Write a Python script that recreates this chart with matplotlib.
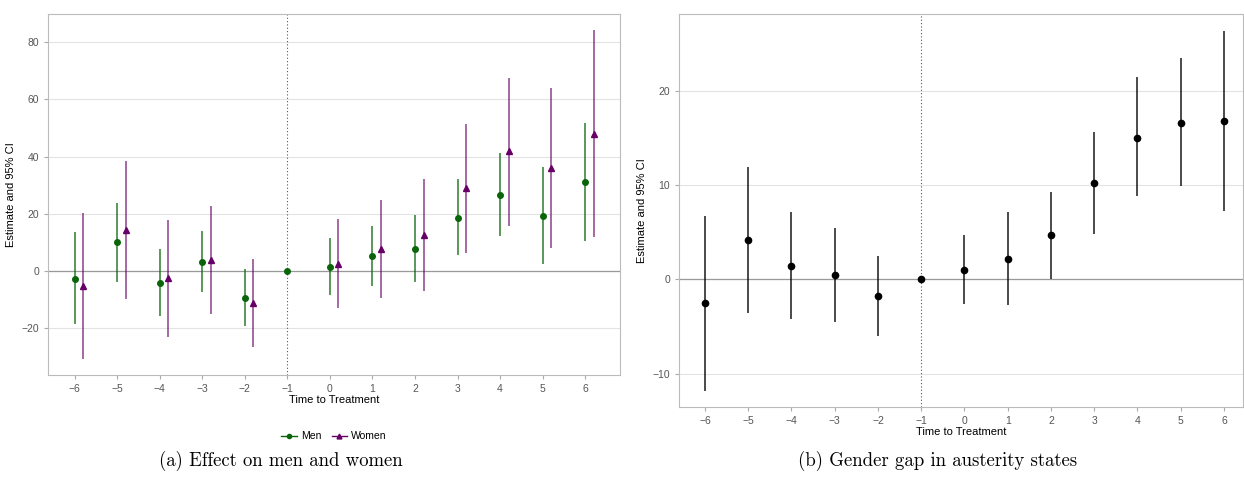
import matplotlib
matplotlib.use("Agg")
from matplotlib import pyplot as plt
import numpy as np

plt.rcParams['font.family'] = ['Liberation Sans', 'DejaVu Sans']
plt.rcParams['axes.unicode_minus'] = True

t = np.arange(-6, 7)

men_est = [-2.6, 10.0, -4.1, 3.3, -9.3, 0, 1.5, 5.3, 7.8, 18.7, 26.7, 19.4, 31.2]
men_lo = [-18.5, -3.7, -15.7, -7.3, -19.2, 0, -8.4, -5.1, -3.8, 5.5, 12.1, 2.6, 10.6]
men_hi = [13.5, 23.8, 7.8, 14.0, 0.7, 0, 11.4, 15.8, 19.5, 32.1, 41.4, 36.3, 51.7]

# women have no estimate at the reference period (-1)
women_t = [-6, -5, -4, -3, -2, 0, 1, 2, 3, 4, 5, 6]
women_est = [-5.1, 14.3, -2.3, 4.0, -11.0, 2.6, 7.7, 12.6, 29.1, 42.0, 36.0, 48.0]
women_lo = [-30.6, -9.9, -23.1, -15.0, -26.4, -13.0, -9.5, -7.0, 6.4, 15.9, 7.9, 12.0]
women_hi = [20.3, 38.4, 18.0, 22.7, 4.3, 18.1, 24.8, 32.0, 51.5, 67.6, 64.1, 84.1]

gap_est = [-2.5, 4.2, 1.4, 0.5, -1.8, 0, 1.0, 2.2, 4.7, 10.2, 15.0, 16.6, 16.8]
gap_lo = [-11.8, -3.5, -4.2, -4.5, -6.0, 0, -2.6, -2.7, 0.0, 4.8, 8.8, 9.9, 7.3]
gap_hi = [6.7, 11.9, 7.1, 5.5, 2.5, 0, 4.7, 7.1, 9.3, 15.6, 21.4, 23.4, 26.3]

green = '#0a640a'
purple = '#660066'

W, H = 1244, 483
fig = plt.figure(figsize=(W/100, H/100), dpi=100)

def frac(x0, y0, x1, y1):
    return [x0/W, 1 - y1/H, (x1-x0)/W, (y1-y0)/H]

def style(ax):
    for s in ax.spines.values():
        s.set_color('#bbbbbb')
        s.set_linewidth(0.8)
    ax.yaxis.grid(True, color='#e3e3e3', lw=0.8)
    ax.set_axisbelow(True)
    ax.axhline(0, color='#999999', lw=0.9, zorder=1)
    ax.axvline(-1, color='#555555', lw=0.8, ls=(0, (1, 2)), zorder=1)
    ax.set_xticks(t)
    ax.tick_params(labelsize=7.5, labelcolor='#555555', color='#aaaaaa', length=3)
    ax.set_xlabel('Time to Treatment', fontsize=8, labelpad=1)
    ax.set_ylabel('Estimate and 95% CI', fontsize=8)

ax1 = fig.add_axes(frac(48, 14, 620, 375))
style(ax1)
ax1.vlines(t, men_lo, men_hi, color=green, lw=1.1, alpha=0.85)
ax1.plot(t, men_est, 'o', color=green, ms=4)
wt = np.array(women_t) + 0.2
ax1.vlines(wt, women_lo, women_hi, color=purple, lw=1.1, alpha=0.75)
ax1.plot(wt, women_est, '^', color=purple, ms=4.5)
ax1.set_xlim(-6.63, 6.82)
ax1.set_ylim(-36.3, 89.8)
ax1.set_yticks([-20, 0, 20, 40, 60, 80])
h1 = ax1.plot([], [], '-o', color=green, ms=3, lw=1)[0]
h2 = ax1.plot([], [], '-^', color=purple, ms=3.5, lw=1)[0]
ax1.legend([h1, h2], ['Men', 'Women'], loc='upper center', bbox_to_anchor=(0.5, -0.13),
           ncol=2, frameon=False, fontsize=7.5, handlelength=1.5, columnspacing=1, handletextpad=0.4)

ax2 = fig.add_axes(frac(679, 14, 1243, 407))
style(ax2)
ax2.vlines(t, gap_lo, gap_hi, color='black', lw=1.1, alpha=0.9)
ax2.plot(t, gap_est, 'o', color='black', ms=4.5)
ax2.set_xlim(-6.6, 6.44)
ax2.set_ylim(-13.5, 28.1)
ax2.set_yticks([-10, 0, 10, 20])

for x, s in [(281, '(a) Effect on men and women'), (938, '(b) Gender gap in austerity states')]:
    fig.text(x/W, 1 - 461/H, s, ha='center', va='center', family=['cmr10', 'DejaVu Serif'],
             fontsize=13.5)

fig.savefig('out.png', dpi=100)
